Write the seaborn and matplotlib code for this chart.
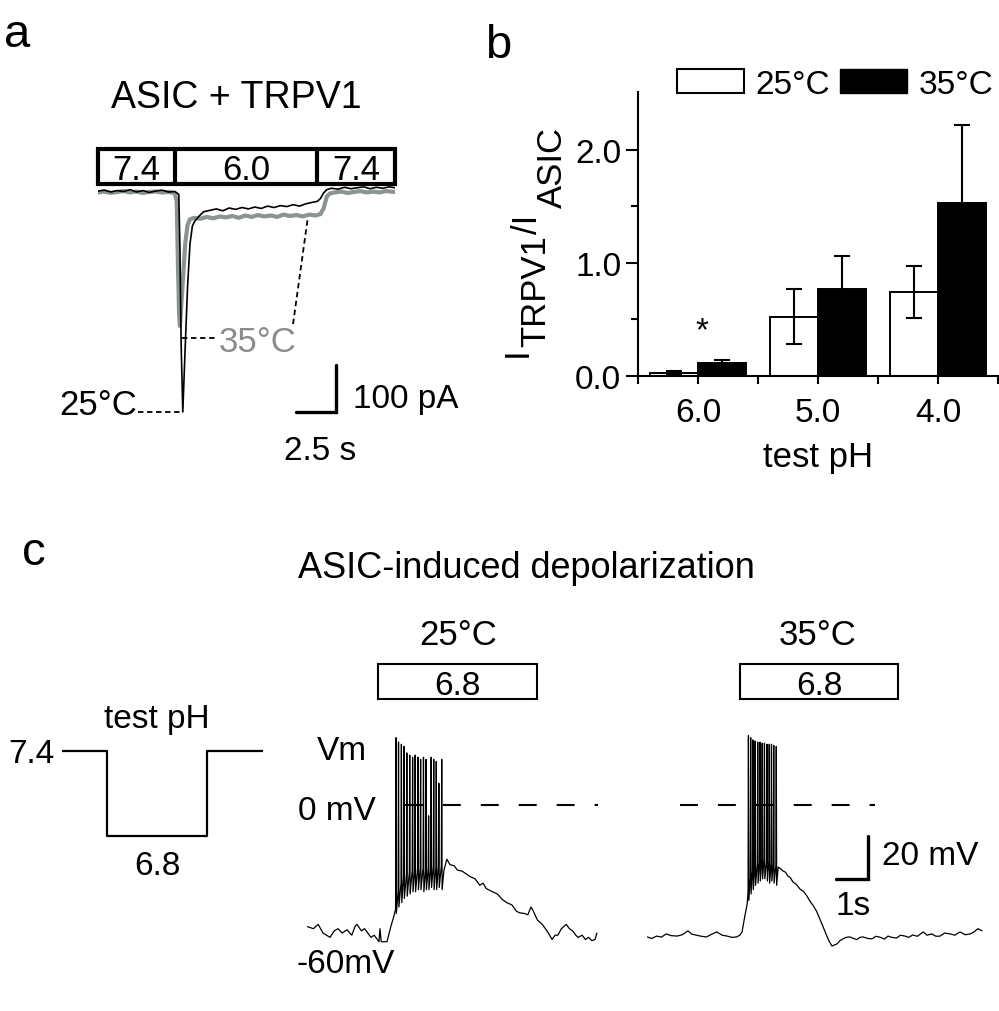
# figura: corrientes ASIC + TRPV1, barras y potencial de membrana
import numpy as np
import pandas as pd
import seaborn as sns
import matplotlib.pyplot as plt
from matplotlib.patches import Rectangle, Patch

# ---------------- datos panel a: corriente (pA) vs tiempo (s)
ta_25 = [0.0, 0.4, 0.8, 1.2, 1.6, 2.0, 2.4, 2.8, 3.2, 3.6, 4.0, 4.4, 4.8,
         5.05, 5.12, 5.2, 5.3, 5.45, 5.6, 5.75, 5.9, 6.05,
         6.3, 6.6, 7.0, 7.4, 7.8, 8.2, 8.6, 9.0, 9.4, 9.8, 10.2, 10.6, 11.0, 11.4, 11.8, 12.2, 12.6, 13.0, 13.4,
         13.7, 13.9, 14.1, 14.3,
         14.6, 15.0, 15.4, 15.8, 16.2, 16.6, 17.0, 17.4, 17.8, 18.2, 18.56]
ia_25 = [2, 4, 0, 3, 1, 5, 0, 3, -1, 2, 4, 0, 1,
         -5, -120, -330, -468, -330, -200, -110, -72, -62,
         -52, -42, -39, -36, -40, -34, -37, -33, -36, -32, -35, -30, -33, -29, -31, -27, -30, -25, -22,
         -20, -14, -2, 5,
         8, 6, 10, 7, 9, 11, 7, 10, 8, 11, 9]
ta_35 = [0.0, 0.4, 0.8, 1.2, 1.6, 2.0, 2.4, 2.8, 3.2, 3.6, 4.0, 4.4, 4.8,
         4.92, 5.0, 5.07, 5.12, 5.3, 5.45, 5.6, 5.75,
         6.0, 6.4, 6.8, 7.2, 7.6, 8.0, 8.4, 8.8, 9.2, 9.6, 10.0, 10.4, 10.8, 11.2, 11.6, 12.0, 12.4, 12.8, 13.2, 13.6,
         13.9, 14.1, 14.3, 14.5,
         14.8, 15.2, 15.6, 16.0, 16.4, 16.8, 17.2, 17.6, 18.0, 18.56]
ia_35 = [-1, 1, -2, 0, 2, -1, 1, -2, 0, 1, -1, 0, -2,
         -20, -160, -260, -285, -190, -110, -70, -58,
         -55, -57, -53, -56, -52, -54, -51, -55, -50, -53, -49, -52, -50, -53, -48, -51, -49, -52, -48, -50,
         -47, -35, -10, -3,
         -1, 1, -2, 0, 2, -1, 1, -1, 2, 0]
ph_a_edges = [0.0, 4.8, 13.7, 18.56]
ph_a_labels = ['7.4', '6.0', '7.4']

# ---------------- datos panel b
ph_b = ['6.0', '5.0', '4.0']
temps = ['25°C', '35°C']
ratio_25 = [0.03, 0.525, 0.745]
err_25 = [0.01, 0.24, 0.23]
ratio_35 = [0.118, 0.773, 1.525]
err_35 = [0.025, 0.29, 0.69]

# ---------------- datos panel c: pH de prueba y Vm (mV) vs tiempo (s)
step_t = [0.0, 1.4, 1.4, 4.53, 4.53, 6.28]
step_ph = [7.4, 7.4, 6.8, 6.8, 7.4, 7.4]

c25_pre_t = [0.0, 0.2, 0.35, 0.5, 0.72, 0.85, 0.97, 1.1, 1.25, 1.4, 1.5, 1.56, 1.7, 1.8, 1.9,
             2.0, 2.1, 2.25, 2.28, 2.32, 2.5, 2.62, 2.7]
c25_pre_v = [-56, -57, -55, -59, -61, -58, -57, -59, -57.5, -60, -56, -55, -58, -57, -59,
             -61, -60, -63, -57, -63, -63, -56, -52]
c25_spk_t = [2.78, 2.86, 2.95, 3.03, 3.12, 3.21, 3.30, 3.38, 3.47, 3.55, 3.64, 3.72, 3.80, 3.88, 3.96, 4.04, 4.12, 4.21]
c25_spk_pk = [31, 29, 28, 27, 24, 23, 22, 23, 22, 21, 22, 21, -5, 22, 21, 20, 10, 21]
c25_spk_tr = [-50, -47, -45, -43, -42, -41, -40, -40, -39, -39, -40, -39, -39, -38, -39, -39, -38, -39]
c25_spk_th = [-48, -40, -36, -33, -32, -31, -30, -30, -29, -29, -29, -30, -29, -29, -28, -29, -28, -28]
c25_post_t = [4.28, 4.37, 4.47, 4.6, 4.7, 4.85, 5.0, 5.1, 5.25, 5.4, 5.5, 5.6, 5.8, 5.95, 6.1,
              6.24, 6.4, 6.55, 6.65, 6.8, 6.9, 7.0, 7.06, 7.2, 7.35, 7.5, 7.66, 7.75, 7.84, 7.95,
              8.1, 8.2, 8.3, 8.4, 8.47, 8.6, 8.7, 8.8, 8.9, 9.0, 9.06]
c25_post_v = [-30, -25, -27.5, -28, -30, -30.5, -32, -33, -34, -37, -36, -38.5, -40, -41, -43.5,
              -45, -46, -49, -49.7, -50, -50.6, -47, -48.5, -53, -55, -58, -62, -60, -60, -57,
              -55, -57, -58, -60, -61, -60, -62, -61, -62.5, -62, -59]

c35_pre_t = [0.0, 0.15, 0.3, 0.45, 0.6, 0.75, 0.94, 1.1, 1.28, 1.4, 1.55, 1.7, 1.86, 2.0, 2.18,
             2.35, 2.5, 2.65, 2.8, 2.9, 2.97, 3.06, 3.13]
c35_pre_v = [-60.8, -61.5, -60.4, -60.9, -59.4, -60.2, -60.4, -59.8, -58.0, -59.5, -60.0, -60.5, -60.8, -59.7, -58.5,
             -60.0, -60.4, -61.0, -60.8, -60.0, -58.5, -51.0, -45.6]
c35_spk_t = [3.17, 3.24, 3.31, 3.38, 3.46, 3.53, 3.60, 3.67, 3.75, 3.82, 3.89, 3.96, 4.04]
c35_spk_pk = [32, 31, 30, 29.5, 29, 29, 28.5, 28.5, 28, 28, 28, 27.5, 27]
c35_spk_tr = [-44, -41, -39, -37, -36, -35, -34, -34, -35, -36, -35, -36, -37]
c35_spk_th = [-40, -33, -30, -28, -27, -26, -25, -25, -26, -26, -27, -27, -28]
c35_post_t = [4.1, 4.18, 4.25, 4.33, 4.4, 4.48, 4.56, 4.66, 4.78, 4.9,
              5.0, 5.1, 5.2, 5.3, 5.4, 5.5, 5.62, 5.7, 5.78, 5.86,
              5.94, 6.03, 6.12, 6.22, 6.34, 6.45, 6.56, 6.65, 6.75, 6.9,
              7.03, 7.15, 7.3, 7.42, 7.53, 7.65, 7.8, 7.92, 8.06, 8.18,
              8.3, 8.45, 8.63, 8.75, 8.9, 9.03, 9.16, 9.3, 9.47, 9.62,
              9.78, 9.95, 10.1, 10.22, 10.34, 10.47]
c35_post_v = [-28.6, -29.5, -30.4, -31.0, -32.7, -33.5, -35.5, -36.5, -38.7, -40.0,
              -42.0, -44.5, -46.5, -49.0, -52.5, -56.0, -60.4, -63.0, -65.0, -64.5,
              -64.0, -62.5, -61.7, -61.0, -60.8, -61.5, -62.0, -61.0, -60.8, -61.5,
              -61.7, -60.5, -61.0, -61.8, -60.4, -61.0, -61.3, -60.0, -60.4, -61.0,
              -59.9, -60.5, -58.5, -60.0, -59.4, -60.5, -60.4, -59.0, -59.4, -60.0,
              -58.5, -59.8, -59.4, -58.5, -57.0, -58.0]

# ---------------- estilo
sns.set_theme(style='white')
plt.rcParams['font.family'] = ['Liberation Sans', 'DejaVu Sans']
plt.rcParams['text.color'] = 'black'
plt.rcParams['axes.labelcolor'] = 'black'

W, H = 999, 1012
fig = plt.figure(figsize=(W / 100, H / 100), dpi=100)
GRAY = '#8b9491'


def px_axes(x0, y0, x1, y1):
    # ejes ubicados en pixeles de la figura
    return fig.add_axes([x0 / W, 1 - y1 / H, (x1 - x0) / W, (y1 - y0) / H])


def ptext(x, y, s, **kw):
    kw.setdefault('va', 'baseline')
    kw.setdefault('size', 25)
    kw.setdefault('color', 'black')
    return fig.text(x / W, 1 - y / H, s, **kw)


def trace(t_pre, v_pre, spk_t, spk_pk, spk_tr, spk_th, t_post, v_post):
    # unir segmentos: base, espigas, recuperacion
    t, v = list(t_pre), list(v_pre)
    for ts, pk, tr, th in zip(spk_t, spk_pk, spk_tr, spk_th):
        t += [ts - 0.012, ts, ts + 0.012]
        v += [th, pk, tr]
    return t + list(t_post), v + list(v_post)


# ================= panel a
axa = px_axes(98, 140, 395, 420)
sns.lineplot(x=ta_35, y=ia_35, ax=axa, color=GRAY, lw=3.0, sort=False, estimator=None)
sns.lineplot(x=ta_25, y=ia_25, ax=axa, color='black', lw=1.2, sort=False, estimator=None)
axa.set_xlim(0, 18.5625)
axa.set_ylim(-(420 - 193) / 0.47, (193 - 140) / 0.47)
axa.axis('off')
# barra de pH
box_lo, box_hi = (193 - 185) / 0.47, (193 - 150) / 0.47
axa.add_patch(Rectangle((ph_a_edges[0], box_lo), ph_a_edges[-1] - ph_a_edges[0], box_hi - box_lo,
                        fill=False, ec='black', lw=3, clip_on=False))
axa.vlines(ph_a_edges[1:-1], box_lo, box_hi, color='black', lw=3, clip_on=False)
for i, lab in enumerate(ph_a_labels):
    axa.text((ph_a_edges[i] + ph_a_edges[i + 1]) / 2, (193 - 180) / 0.47, lab,
             ha='center', va='baseline', size=25, color='black')
# lineas guia
axa.plot([2.5, 5.3], [-468, -468], color='black', lw=1.3, ls=(0, (3, 2)), clip_on=False)
axa.plot([5.25, 7.5], [-311, -311], color='black', lw=1.3, ls=(0, (3, 2)))
axa.plot([12.19, 13.12], [-281, -53], color='black', lw=1.3, ls=(0, (3, 2)))
# escala 2.5 s / 100 pA
axa.plot([12.375, 14.875, 14.875], [-468, -468, -368], color='black', lw=2.4,
         solid_joinstyle='miter', clip_on=False)

ptext(4, 47, 'a', size=34)
ptext(236, 108, 'ASIC + TRPV1', ha='center', size=27)
ptext(137, 415, '25°C', ha='right')
ptext(258, 352, '35°C', ha='center', color='#8c8c8c')
ptext(353, 408, '100 pA', size=24)
ptext(320, 460, '2.5 s', ha='center', size=24)

# ================= panel b
df = pd.DataFrame({'pH': ph_b * 2,
                   'temp': [temps[0]] * 3 + [temps[1]] * 3,
                   'ratio': ratio_25 + ratio_35})
axb = px_axes(638, 93, 998, 377)
sns.barplot(data=df, x='pH', y='ratio', hue='temp', order=ph_b, hue_order=temps,
            palette=['white', 'black'], edgecolor='black', linewidth=1.4, saturation=1,
            errorbar=None, width=0.8, legend=False, ax=axb)
for cont, errs in zip(axb.containers, [err_25, err_35]):
    xs = [b.get_x() + b.get_width() / 2 for b in cont]
    hs = [b.get_height() for b in cont]
    axb.errorbar(xs, hs, yerr=errs, fmt='none', ecolor='black', elinewidth=1.5,
                 capsize=6, capthick=1.5, zorder=3)
axb.text(0.03, 0.40, '*', ha='center', va='center', size=24, color='black')
axb.set_xlim(-0.5, 2.5)
axb.set_ylim(0, 2.51)
axb.set_xticks([0, 1, 2])
axb.set_xticklabels(ph_b)
axb.set_xticks([-0.5, 0.5, 1.5, 2.5], minor=True)
axb.set_yticks([0, 1, 2])
axb.set_yticklabels(['0.0', '1.0', '2.0'])
axb.set_yticks([0.5, 1.5], minor=True)
axb.tick_params(axis='x', which='both', bottom=True, direction='out', length=6, width=1.5,
                colors='black', labelsize=24, pad=9)
axb.tick_params(axis='y', which='major', left=True, direction='out', length=9, width=1.5,
                colors='black', labelsize=24, pad=3)
axb.tick_params(axis='y', which='minor', left=True, direction='out', length=5, width=1.5, colors='black')
for s in ['top', 'right']:
    axb.spines[s].set_visible(False)
for s in ['left', 'bottom']:
    axb.spines[s].set_linewidth(1.5)
    axb.spines[s].set_color('black')
axb.set_xlabel('test pH', size=25, labelpad=9, color='black')
axb.set_ylabel('')
# etiqueta y con subindices grandes
for s, xb, yc in [('I', 527, 352), ('TRPV1', 545, 291), ('/I', 537, 224), ('ASIC', 562, 167)]:
    fig.text(xb / W, 1 - yc / H, s, rotation=90, rotation_mode='anchor',
             ha='center', va='baseline', size=25, color='black')
handles = [Patch(facecolor='white', edgecolor='black', lw=1.5), Patch(facecolor='black', edgecolor='black')]
fig.legend(handles, temps, ncol=2, frameon=False, fontsize=24, handlelength=2.0, handleheight=0.7,
           handletextpad=0.35, columnspacing=0.3, loc='center left', borderpad=0, borderaxespad=0,
           bbox_to_anchor=(677 / W, 1 - 85 / H))
ptext(485, 58, 'b', size=34)

# ================= panel c
axs = px_axes(62, 742, 263, 847)
sns.lineplot(x=step_t, y=step_ph, ax=axs, color='black', lw=1.6, sort=False, estimator=None)
axs.set_xlim(0, 6.28)
axs.set_ylim(6.8 - 10 / 141.7, 7.4 + 10 / 141.7)
axs.axis('off')

t25, v25 = trace(c25_pre_t, c25_pre_v, c25_spk_t, c25_spk_pk, c25_spk_tr, c25_spk_th, c25_post_t, c25_post_v)
t35, v35 = trace(c35_pre_t, c35_pre_v, c35_spk_t, c35_spk_pk, c35_spk_tr, c35_spk_th, c35_post_t, c35_post_v)

ylo, yhi = -(960 - 806) / 2.17, (806 - 650) / 2.17
box_lo, box_hi = (806 - 700) / 2.17, (806 - 665) / 2.17
dash = (0, (8.6, 9.6))

ax25 = px_axes(307, 650, 600, 960)
sns.lineplot(x=t25, y=v25, ax=ax25, color='black', lw=0.9, sort=False, estimator=None)
ax25.plot([3.06, 9.09], [0, 0], color='black', lw=1.5, ls=dash)
ax25.add_patch(Rectangle((2.22, box_lo), 4.97, box_hi - box_lo, fill=False, ec='black', lw=1.5))
ax25.text(4.70, (806 - 695) / 2.17, '6.8', ha='center', va='baseline', size=24, color='black')
ax25.set_xlim(0, 293 / 32)
ax25.set_ylim(ylo, yhi)
ax25.axis('off')

ax35 = px_axes(647, 650, 990, 960)
sns.lineplot(x=t35, y=v35, ax=ax35, color='black', lw=0.9, sort=False, estimator=None)
ax35.plot([1.03, 7.13], [0, 0], color='black', lw=1.5, ls=dash)
ax35.add_patch(Rectangle((2.906, box_lo), 4.94, box_hi - box_lo, fill=False, ec='black', lw=1.5))
ax35.text(5.375, (806 - 695) / 2.17, '6.8', ha='center', va='baseline', size=24, color='black')
# escala 1 s / 20 mV
ax35.plot([5.906, 6.906, 6.906], [-34.1, -34.1, -14.1], color='black', lw=2.4, solid_joinstyle='miter')
ax35.set_xlim(0, 343 / 32)
ax35.set_ylim(ylo, yhi)
ax35.axis('off')

ptext(22, 565, 'c', size=34)
ptext(526, 578, 'ASIC-induced depolarization', ha='center', size=26)
ptext(458, 645, '25°C', ha='center')
ptext(818, 645, '35°C', ha='center')
ptext(157, 728, 'test pH', ha='center', size=24)
ptext(55, 763, '7.4', ha='right', size=24)
ptext(157, 875, '6.8', ha='center', size=24)
ptext(317, 760, 'Vm', size=24)
ptext(298, 820, '0 mV', size=24)
ptext(297, 973, '-60mV', size=24)
ptext(882, 865, '20 mV', size=24)
ptext(853, 915, '1s', ha='center', size=24)

fig.savefig('out.png', dpi=100)
